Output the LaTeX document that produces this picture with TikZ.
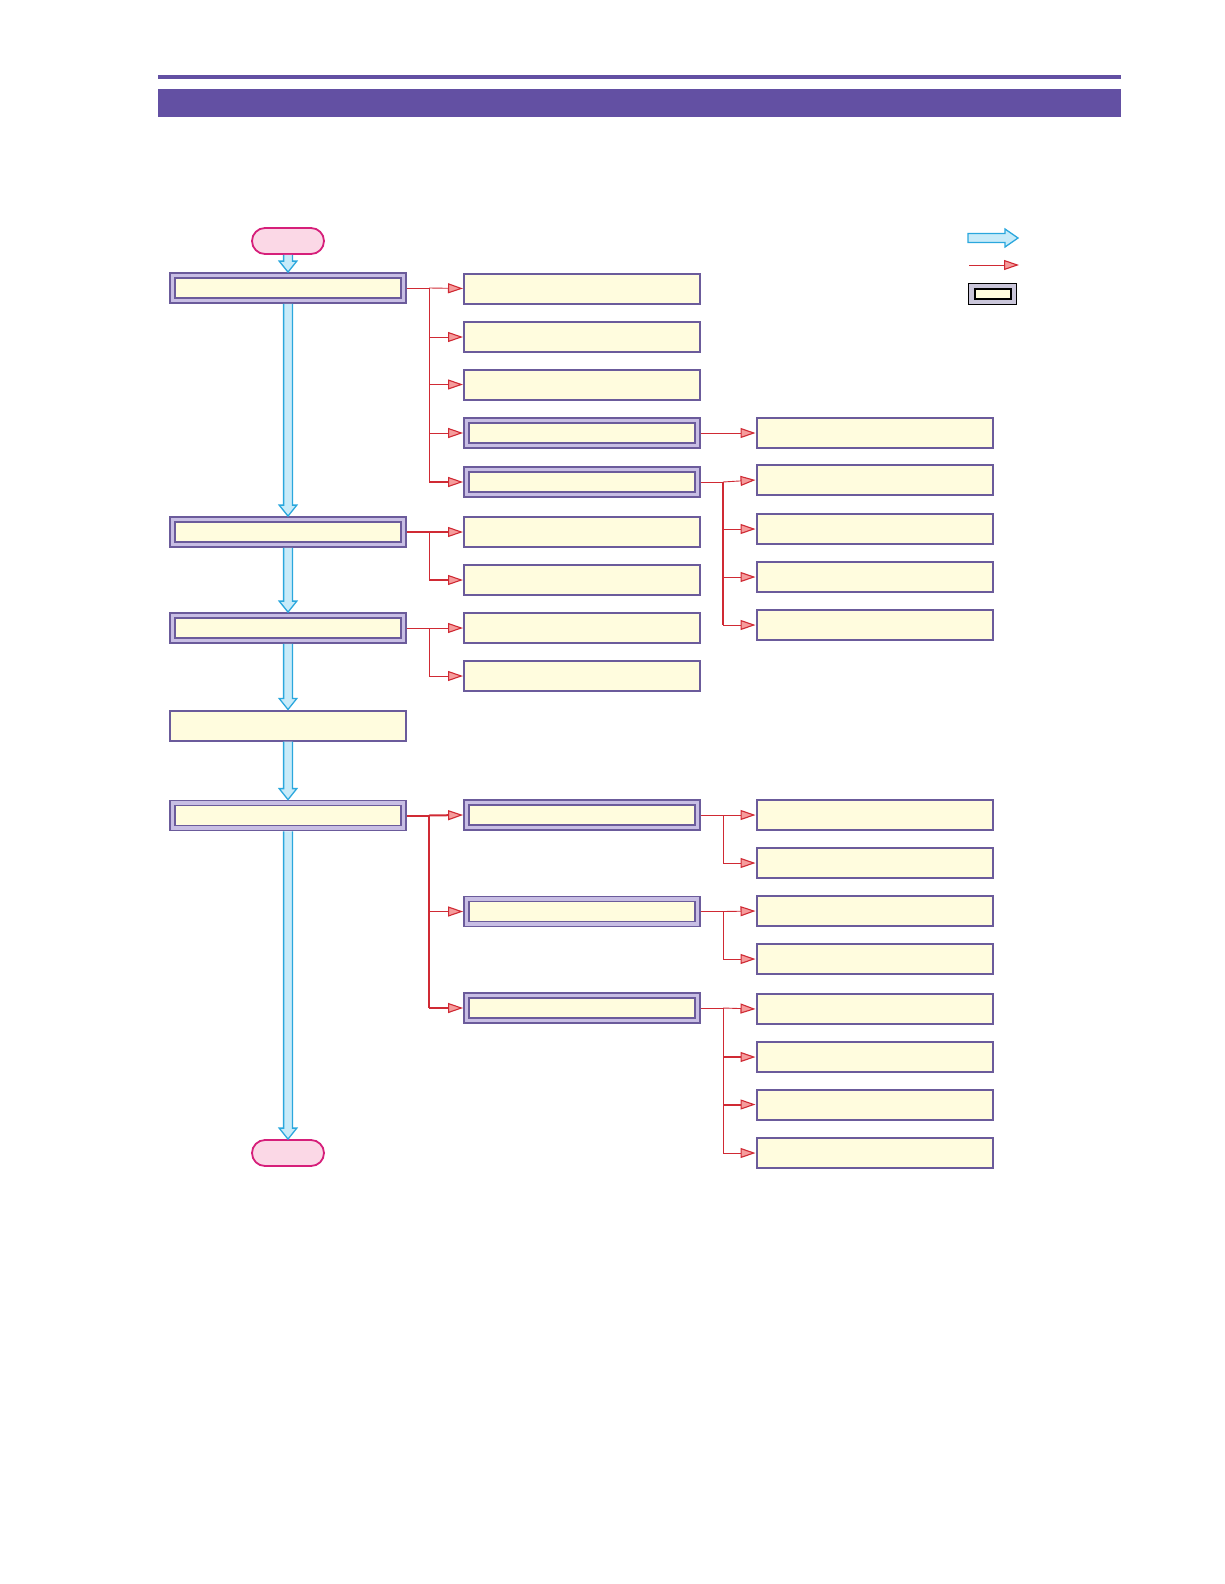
\documentclass[tikz,border=0pt]{standalone}
\usetikzlibrary{arrows.meta,calc}
\definecolor{band}{HTML}{6350A3}
\definecolor{boxborder}{HTML}{6B5B9B}
\definecolor{boxfill}{HTML}{FFFCDE}
\definecolor{framefill}{HTML}{C8BEE4}
\definecolor{termfill}{HTML}{FBD8E6}
\definecolor{termdraw}{HTML}{D61F7A}
\definecolor{blueline}{HTML}{2AA7DD}
\definecolor{bluefill}{HTML}{C8EBF9}
\definecolor{redline}{HTML}{D02A34}
\definecolor{redfill}{HTML}{F59C9C}
\definecolor{legendgray}{HTML}{CAC6DA}
\tikzset{
 plainbox/.style={rectangle, draw=boxborder, line width=2pt, fill=boxfill, minimum width=236pt, minimum height=30pt, inner sep=0pt},
 dblbox/.style={rectangle, draw=boxborder, line width=1.8pt, double=framefill, double distance=3.2pt, fill=boxfill, minimum width=231pt, minimum height=25pt, inner sep=0pt, outer sep=3.4pt},
 term/.style={rectangle, rounded corners=13pt, draw=termdraw, line width=1.8pt, fill=termfill, minimum width=72pt, minimum height=26pt, inner sep=0pt},
 flowarrow/.style={draw=blueline, fill=bluefill, line width=1.3pt, line join=miter},
 link/.style={draw=redline, line width=0.9pt},
 boldlink/.style={draw=redline, line width=2pt},
 redtip/.style={-{Triangle[length=15pt,width=10pt,fill=redfill,line width=1.1pt]}},
}
\newcommand\flowdown[2]{\filldraw[flowarrow] ($(#1.south)+(-4.4,0)$) -- ($(#2.north)+(-4.4,-11)$) -- ($(#2.north)+(-8.8,-11)$) -- (#2.north) -- ($(#2.north)+(8.8,-11)$) -- ($(#2.north)+(4.4,-11)$) -- ($(#1.south)+(4.4,0)$);}
\begin{document}
\begin{tikzpicture}[x=1pt,y=-1pt]
\useasboundingbox (0,0) rectangle (1224,1584);
% header
\fill[band] (158,75) rectangle (1121,79);
\fill[band] (158,89) rectangle (1121,117);

% terminals
\node[term] (start) at (288,241) {};
\node[term] (stop) at (288,1153) {};

% main column
\node[dblbox] (m1) at (288,288) {};
\node[dblbox] (m2) at (288,532) {};
\node[dblbox] (m3) at (288,628) {};
\node[plainbox] (m4) at (288,725.5) {};
\node[dblbox] (m5) at (288,815.5) {};

% middle column
\node[plainbox] (c1) at (582,288.5) {};
\node[plainbox] (c2) at (582,337) {};
\node[plainbox] (c3) at (582,384.5) {};
\node[dblbox] (c4) at (582,433) {};
\node[dblbox] (c5) at (582,482) {};
\node[plainbox] (d1) at (582,532) {};
\node[plainbox] (d2) at (582,580) {};
\node[plainbox] (e1) at (582,628) {};
\node[plainbox] (e2) at (582,676) {};
\node[dblbox] (f1) at (582,815) {};
\node[dblbox] (f2) at (582,911.5) {};
\node[dblbox] (f3) at (582,1008) {};

% right column
\node[plainbox] (r1) at (874.5,433) {};
\node[plainbox] (s1) at (874.5,480) {};
\node[plainbox] (s2) at (874.5,529) {};
\node[plainbox] (s3) at (874.5,577) {};
\node[plainbox] (s4) at (874.5,625) {};
\node[plainbox] (t1) at (874.5,815) {};
\node[plainbox] (t2) at (874.5,863) {};
\node[plainbox] (u1) at (874.5,911) {};
\node[plainbox] (u2) at (874.5,959) {};
\node[plainbox] (v1) at (874.5,1009) {};
\node[plainbox] (v2) at (874.5,1057) {};
\node[plainbox] (v3) at (874.5,1104.5) {};
\node[plainbox] (v4) at (874.5,1153) {};

% main flow
\flowdown{start}{m1}
\flowdown{m1}{m2}
\flowdown{m2}{m3}
\flowdown{m3}{m4}
\flowdown{m4}{m5}
\flowdown{m5}{stop}

% bus points
\coordinate (b1) at (429,288);
\coordinate (b2) at (429,532);
\coordinate (b3) at (429,628);
\coordinate (b5) at (429,815.5);
\coordinate (bc5) at (723,482);
\coordinate (bf1) at (723,815);
\coordinate (bf2) at (723,911.5);
\coordinate (bf3) at (723,1008);

% m1 branches
\draw[link] (m1.east) -- (b1) -- (b1 |- c5.west);
\draw[link,redtip] (b1) -- (c1.west);
\draw[link,redtip] (b1 |- c2.west) -- (c2.west);
\draw[link,redtip] (b1 |- c3.west) -- (c3.west);
\draw[link,redtip] (b1 |- c4.west) -- (c4.west);
\draw[boldlink,redtip] (b1 |- c5.west) -- (c5.west);

% m2 branches
\draw[boldlink] (m2.east) -- (b2);
\draw[link] (b2) -- (b2 |- d2.west);
\draw[boldlink,redtip] (b2) -- (d1.west);
\draw[boldlink,redtip] (b2 |- d2.west) -- (d2.west);

% m3 branches
\draw[link] (m3.east) -- (b3) -- (b3 |- e2.west);
\draw[link,redtip] (b3) -- (e1.west);
\draw[link,redtip] (b3 |- e2.west) -- (e2.west);

% m5 branches
\draw[boldlink] (m5.east) -- (b5) -- (b5 |- f3.west);
\draw[boldlink,redtip] (b5) -- (f1.west);
\draw[link,redtip] (b5 |- f2.west) -- (f2.west);
\draw[boldlink,redtip] (b5 |- f3.west) -- (f3.west);

% c4, c5 branches
\draw[link,redtip] (c4.east) -- (r1.west);
\draw[link] (c5.east) -- (bc5);
\draw[boldlink] (bc5) -- (bc5 |- s4.west);
\draw[link,redtip] (bc5) -- (s1.west);
\draw[link,redtip] (bc5 |- s2.west) -- (s2.west);
\draw[link,redtip] (bc5 |- s3.west) -- (s3.west);
\draw[link,redtip] (bc5 |- s4.west) -- (s4.west);

% f1 branches
\draw[link] (f1.east) -- (bf1) -- (bf1 |- t2.west);
\draw[link,redtip] (bf1) -- (t1.west);
\draw[link,redtip] (bf1 |- t2.west) -- (t2.west);

% f2 branches
\draw[link] (f2.east) -- (bf2) -- (bf2 |- u2.west);
\draw[link,redtip] (bf2) -- (u1.west);
\draw[link,redtip] (bf2 |- u2.west) -- (u2.west);

% f3 branches
\draw[link] (f3.east) -- (bf3) -- (bf3 |- v4.west);
\draw[link,redtip] (bf3) -- (v1.west);
\draw[boldlink,redtip] (bf3 |- v2.west) -- (v2.west);
\draw[boldlink,redtip] (bf3 |- v3.west) -- (v3.west);
\draw[link,redtip] (bf3 |- v4.west) -- (v4.west);

% legend
\coordinate (la) at (968,238);
\coordinate (lb) at (1018,238);
\filldraw[flowarrow] ($(la)+(0,-4.5)$) -- ($(lb)+(-13,-4.5)$) -- ($(lb)+(-13,-9)$) -- (lb) -- ($(lb)+(-13,9)$) -- ($(lb)+(-13,4.5)$) -- ($(la)+(0,4.5)$) -- cycle;
\coordinate (lc) at (969,265);
\coordinate (ld) at (1019,265);
\draw[link,redtip] (lc) -- (ld);
\node[rectangle, draw=black, line width=1.3pt, fill=legendgray, minimum width=48pt, minimum height=21pt, inner sep=0pt] (lbox) at (992.5,294) {};
\node[rectangle, draw=black, line width=2pt, fill=boxfill, minimum width=36pt, minimum height=10pt, inner sep=0pt] (lboxin) at (992.5,294) {};
\end{tikzpicture}
\end{document}
